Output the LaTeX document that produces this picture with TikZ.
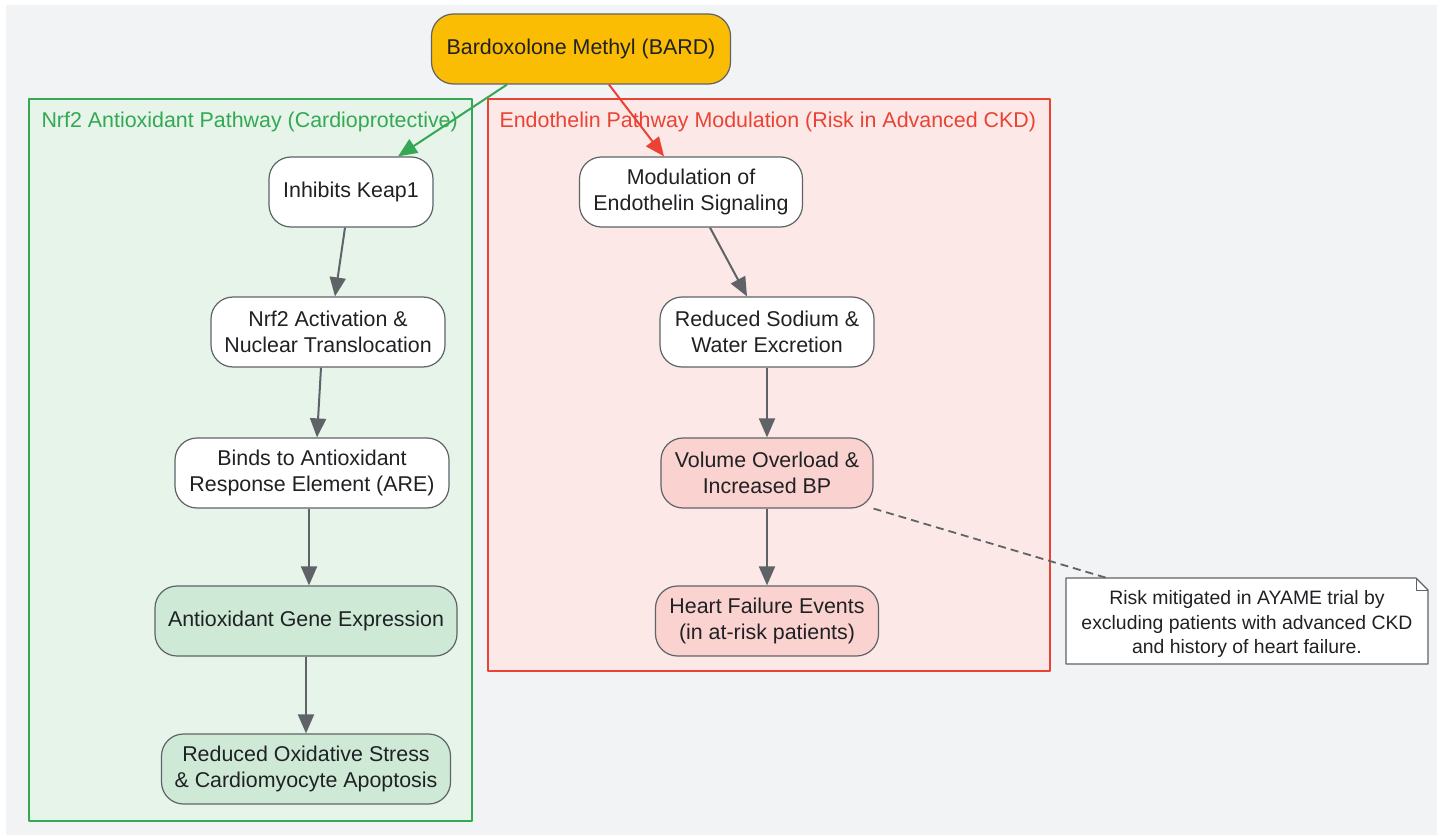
\documentclass[tikz,border=0pt]{standalone}
\usepackage{fontspec}
\setmainfont{Liberation Sans}
\usetikzlibrary{arrows.meta}
\definecolor{bggray}{RGB}{241,243,244}
\definecolor{edgegray}{RGB}{95,99,104}
\definecolor{txtcol}{RGB}{32,33,36}
\definecolor{gfill}{RGB}{230,244,234}
\definecolor{gline}{RGB}{52,168,83}
\definecolor{gnode}{RGB}{206,234,214}
\definecolor{rfill}{RGB}{252,232,230}
\definecolor{rline}{RGB}{234,67,53}
\definecolor{rnode}{RGB}{250,210,207}
\definecolor{amber}{RGB}{251,188,4}
\begin{document}
\begin{tikzpicture}[x=1pt,y=-1pt,>={Triangle[length=19pt,width=16pt]},line join=round,
    font=\fontsize{21.4}{26}\selectfont,
    box/.style={draw=edgegray,line width=1.2pt,rounded corners=22pt,fill=white,
      minimum height=70pt,align=center,text=txtcol,inner sep=2pt},
    gbox/.style={box,fill=gnode},
    rbox/.style={box,fill=rnode},
    arr/.style={->,draw=edgegray,line width=2pt}]
    \useasboundingbox (0,0) rectangle (1443,837);
    \fill[bggray] (6,5) rectangle (1437,835);
    % clusters
    \draw[gline,fill=gfill,line width=1.2pt] (29,99) rectangle (472,821);
    \node[anchor=west,text=gline] (gtitle) at (38,122) {Nrf2 Antioxidant Pathway (Cardioprotective)};
    \draw[rline,fill=rfill,line width=1.2pt] (488,99) rectangle (1050,671);
    \node[anchor=west,text=rline] (rtitle) at (496,122) {Endothelin Pathway Modulation (Risk in Advanced CKD)};
    % nodes
    \node[box,fill=amber,minimum width=299pt] (bard) at (581,49) {Bardoxolone Methyl (BARD)};
    \node[box,minimum width=164pt] (keap) at (351,192) {Inhibits Keap1};
    \node[box,minimum width=234pt] (nrf) at (328,332) {Nrf2 Activation \&\\Nuclear Translocation};
    \node[box,minimum width=274pt] (are) at (312,473) {Binds to Antioxidant\\Response Element (ARE)};
    \node[gbox,minimum width=302pt] (gene) at (306,621) {Antioxidant Gene Expression};
    \node[gbox,minimum width=289pt] (stress) at (306,769) {Reduced Oxidative Stress\\\& Cardiomyocyte Apoptosis};
    \node[box,minimum width=223pt] (endo) at (691,192) {Modulation of\\Endothelin Signaling};
    \node[box,minimum width=214pt] (sodium) at (767,332) {Reduced Sodium \&\\Water Excretion};
    \node[rbox,minimum width=212pt] (volume) at (767,473) {Volume Overload \&\\Increased BP};
    \node[rbox,minimum width=223pt] (hf) at (767,621) {Heart Failure Events\\(in at-risk patients)};
    \coordinate (notec) at (1247,621);
    \draw[edgegray,line width=1.2pt,fill=white] (1066,578) -- (1416,578) -- (1428,590)
      -- (1428,664) -- (1066,664) -- cycle;
    \draw[edgegray,line width=1pt] (1416,578) -- (1416,590) -- (1428,590);
    \node[align=center,text=txtcol,font=\fontsize{19.4}{24.5}\selectfont,inner sep=0pt] (note) at ([yshift=-3pt]notec)
      {Risk mitigated in AYAME trial by\\excluding patients with advanced CKD\\and history of heart failure.};
    % connectors
    \draw[arr,draw=gline] ([xshift=-74pt]bard.south) -- ([xshift=47pt]keap.north);
    \draw[arr,draw=rline] ([xshift=28pt]bard.south) -- ([xshift=-27pt]endo.north);
    \draw[arr] ([xshift=-6pt]keap.south) -- ([xshift=7pt]nrf.north);
    \draw[arr] ([xshift=-7pt]nrf.south) -- ([xshift=5pt]are.north);
    \draw[arr] ([xshift=-3pt]are.south) -- ([xshift=3pt]gene.north);
    \draw[arr] (gene) -- (stress);
    \draw[arr] ([xshift=19pt]endo.south) -- ([xshift=-20pt]sodium.north);
    \draw[arr] (sodium) -- (volume);
    \draw[arr] (volume) -- (hf);
    \draw[edgegray,line width=1.8pt,dash pattern=on 8pt off 5pt] (volume.south east) -- (1107,578);
\end{tikzpicture}
\end{document}
